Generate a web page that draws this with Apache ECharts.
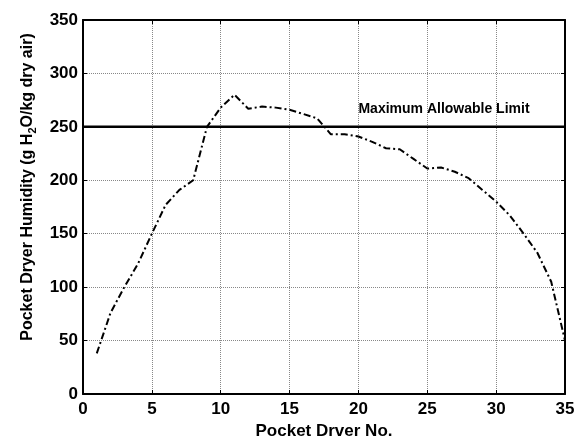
<!DOCTYPE html>
<html><head><meta charset="utf-8">
<script src="https://cdn.jsdelivr.net/npm/echarts@6/dist/echarts.min.js"></script>
<style>html,body{margin:0;padding:0;background:#fff}#c{width:575px;height:437px}</style>
</head><body><div id="c"></div>
<script>
const dryerNo = [1,2,3,4,5,6,7,8,9,10,11,12,13,14,15,16,17,18,19,20,21,22,23,24,25,26,27,28,29,30,31,32,33,34,35];
const humidity = [38,76,100,122,150,177,191,200,250,268,280,267,269,268,266,262,258,243,243,241,236,230,229,220,211,212,208,202,191,180,167,150,132,105,50];
const limitValue = 250;
const limitLabel = 'Maximum Allowable Limit';
const xTicks = [0,5,10,15,20,25,30,35];
const yTicks = [0,50,100,150,200,250,300,350];

const font = 'Liberation Sans, Arial, sans-serif';
const chart = echarts.init(document.getElementById('c'));
const baseAxis = {
  axisLine:{show:true,onZero:false,lineStyle:{color:'#000',width:2}},
  axisTick:{show:true,inside:true,length:4,lineStyle:{color:'#000',width:1}},
};
chart.setOption({
  animation:false,
  grid:{left:83,right:10,top:20,bottom:43,containLabel:false,outerBoundsMode:'none'},
  xAxis:[{
    ...baseAxis, type:'value', min:xTicks[0], max:xTicks[xTicks.length-1], interval:5,
    axisLabel:{color:'#000',fontFamily:font,fontWeight:'bold',fontSize:17,margin:7},
    splitLine:{show:true,lineStyle:{color:'#888',type:[1,1],width:1}},
    name:'Pocket Drver No.', nameLocation:'middle', nameGap:20,
    nameTextStyle:{color:'#000',fontFamily:font,fontWeight:'bold',fontSize:17,verticalAlign:'top'}
  },{
    ...baseAxis, type:'value', position:'top', min:0, max:35, interval:5,
    axisLabel:{show:false}, splitLine:{show:false}
  }],
  yAxis:[{
    ...baseAxis, type:'value', min:yTicks[0], max:yTicks[yTicks.length-1], interval:50,
    axisLabel:{color:'#000',fontFamily:font,fontWeight:'bold',fontSize:17,margin:5},
    splitLine:{show:true,lineStyle:{color:'#888',type:[1,1],width:1}},
    name:'{a|Pocket Dryer Humidity (g H}{s|2}{a|O/kg dry air)}', nameLocation:'middle', nameGap:44,
    nameTextStyle:{padding:[0,0,0,40],rich:{
      a:{color:'#000',fontFamily:font,fontWeight:'bold',fontSize:16},
      s:{color:'#000',fontFamily:font,fontWeight:'bold',fontSize:11,padding:[11,0,0,0]}
    }}
  },{
    ...baseAxis, type:'value', position:'right', min:0, max:350, interval:50,
    axisLabel:{show:false}, splitLine:{show:false}
  }],
  series:[{
    type:'line', data:dryerNo.map((x,i)=>[x,humidity[i]]), symbol:'none',
    lineStyle:{color:'#000',width:2,type:[7,3,2,3]}, z:3
  },{
    type:'line', data:[[xTicks[0],limitValue],[xTicks[xTicks.length-1],limitValue]], symbol:'none',
    lineStyle:{color:'#000',width:2.5}, z:2,
    markPoint:{symbol:'circle',symbolSize:0,data:[{coord:[20,267]}],
      label:{show:true,position:'right',distance:0,formatter:limitLabel,color:'#000',fontFamily:font,fontWeight:'bold',fontSize:14}}
  }]
});
</script></body></html>
